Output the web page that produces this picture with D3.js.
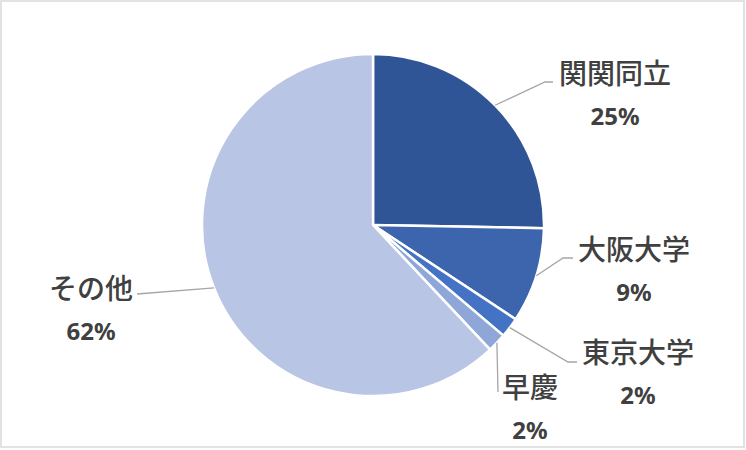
<!DOCTYPE html>
<html>
<head>
<meta charset="utf-8">
<script src="https://cdn.jsdelivr.net/npm/d3@7"></script>
<style>
  body { margin: 0; background: #fff; }
  svg { display: block; }
</style>
</head>
<body>
<svg id="mainSVG" width="746" height="450"></svg>
<script>
// Data (percent shares)
var categories = ['関関同立', '大阪大学', '東京大学', '早慶', 'その他'];
var values = [25.3, 9.0, 1.9, 1.8, 62.0];
var colors = ['#2f5597', '#3c65ae', '#4472c4', '#8fa6d8', '#b9c5e4'];

// Label layout: leader elbow, leader end, label centre
var labelLayout = [
    {elbow:[545,82],  end:[553,82],  at:[615,72]},
    {elbow:[563,258], end:[573,258], at:[634,248]},
    {elbow:[568,362], end:[577,362], at:[638,351]},
    {elbow:[498,392], end:[498,392], at:[530,386]},
    {elbow:[137,294], end:[137,294], at:[91,287]}
];

var cx = 373, cy = 225, radius = 171;
var pctGap = 43;

var $svg = d3.select('#mainSVG');

// chart border
$svg.append('rect')
    .attr('x', 1).attr('y', 1)
    .attr('width', 743).attr('height', 446)
    .attr('fill', '#fff')
    .attr('stroke', '#d9d9d9')
    .attr('stroke-width', 1.5);

var pie = d3.pie().sort(null).value(d => d);
var arcs = pie(values);
var arc = d3.arc().innerRadius(0).outerRadius(radius);

var $g = $svg.append('g').attr('transform', `translate(${cx} ${cy})`);

$g.selectAll('path.slice').data(arcs)
    .enter().append('path')
    .attr('class', 'slice')
    .attr('d', arc)
    .attr('fill', (d,i) => colors[i])
    .attr('stroke', '#fff')
    .attr('stroke-width', 2.5)
    .attr('stroke-linejoin', 'round');

// Leader lines from the slice edge to the label
function edgePoint(d){
    let a = (d.startAngle + d.endAngle)/2;
    return [cx + radius*Math.sin(a), cy - radius*Math.cos(a)];
}

$svg.append('g').attr('id', 'leaders')
    .selectAll('path').data(arcs)
    .enter().append('path')
    .attr('fill', 'none')
    .attr('stroke', '#a6a6a6')
    .attr('stroke-width', 1.3)
    .attr('d', (d,i) => {
        let [x0,y0] = edgePoint(d);
        let L = labelLayout[i];
        return `M ${x0} ${y0} L ${L.elbow[0]} ${L.elbow[1]} L ${L.end[0]} ${L.end[1]}`;
    });

var total = d3.sum(values);
var $labels = $svg.append('g').attr('id', 'labels')
    .selectAll('g').data(arcs).enter().append('g');

$labels.append('text')
    .attr('x', (d,i) => labelLayout[i].at[0])
    .attr('y', (d,i) => labelLayout[i].at[1])
    .attr('text-anchor', 'middle')
    .attr('dominant-baseline', 'central')
    .attr('font-family', '"Noto Sans CJK JP", "Noto Sans", sans-serif')
    .attr('font-size', 28)
    .attr('font-weight', 500)
    .attr('fill', '#404040')
    .text((d,i) => categories[i]);

$labels.append('text')
    .attr('x', (d,i) => labelLayout[i].at[0])
    .attr('y', (d,i) => labelLayout[i].at[1] + pctGap)
    .attr('text-anchor', 'middle')
    .attr('dominant-baseline', 'central')
    .attr('font-family', '"Noto Sans", "Noto Sans CJK JP", sans-serif')
    .attr('font-size', 24)
    .attr('font-weight', 700)
    .attr('fill', '#404040')
    .text(d => Math.round(d.value/total*100) + '%');
</script>
</body>
</html>
